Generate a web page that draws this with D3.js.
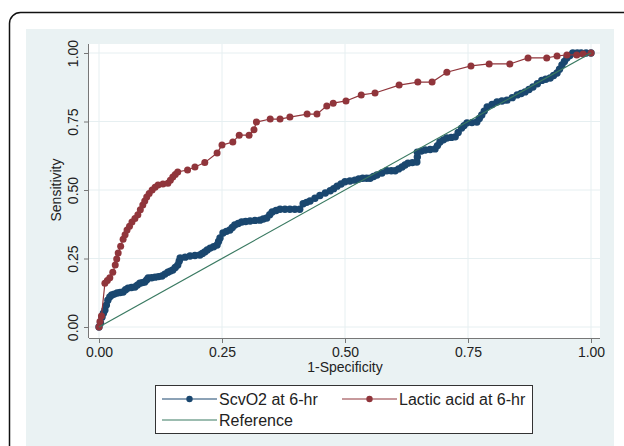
<!DOCTYPE html>
<html>
<head>
<meta charset="utf-8">
<script src="https://cdn.jsdelivr.net/npm/d3@7"></script>
<style>
  body { margin: 0; background: #fff; }
  svg { display: block; font-family: "Liberation Sans", Arial, sans-serif; }
</style>
</head>
<body>
<script>
// ROC data (1-specificity, sensitivity)
var scvX = [0, 0.003, 0.006, 0.009, 0.012, 0.015, 0.018, 0.022, 0.026, 0.031, 0.037, 0.043, 0.049, 0.054, 0.059, 0.066, 0.073, 0.078, 0.083, 0.088, 0.093, 0.097, 0.1, 0.107, 0.114, 0.121, 0.128, 0.134, 0.14, 0.145, 0.15, 0.155, 0.16, 0.163, 0.165, 0.175, 0.185, 0.195, 0.205, 0.21, 0.215, 0.22, 0.226, 0.233, 0.24, 0.243, 0.246, 0.252, 0.259, 0.266, 0.271, 0.276, 0.283, 0.29, 0.298, 0.307, 0.317, 0.327, 0.334, 0.341, 0.347, 0.352, 0.36, 0.368, 0.378, 0.388, 0.398, 0.408, 0.415, 0.422, 0.429, 0.439, 0.449, 0.46, 0.47, 0.477, 0.484, 0.492, 0.5, 0.51, 0.52, 0.528, 0.536, 0.544, 0.551, 0.558, 0.565, 0.575, 0.585, 0.594, 0.602, 0.609, 0.616, 0.622, 0.628, 0.637, 0.646, 0.647, 0.647, 0.655, 0.663, 0.673, 0.683, 0.688, 0.693, 0.7, 0.707, 0.716, 0.724, 0.73, 0.737, 0.742, 0.748, 0.758, 0.768, 0.773, 0.778, 0.783, 0.789, 0.799, 0.809, 0.819, 0.829, 0.84, 0.85, 0.858, 0.866, 0.874, 0.882, 0.891, 0.9, 0.908, 0.917, 0.924, 0.931, 0.936, 0.941, 0.946, 0.951, 0.957, 0.963, 0.972, 0.98, 0.99, 1];
var scvY = [0, 0.015, 0.036, 0.05, 0.062, 0.08, 0.098, 0.11, 0.117, 0.12, 0.124, 0.126, 0.128, 0.136, 0.142, 0.144, 0.146, 0.153, 0.16, 0.162, 0.164, 0.172, 0.179, 0.18, 0.182, 0.184, 0.186, 0.193, 0.2, 0.204, 0.208, 0.217, 0.226, 0.24, 0.252, 0.255, 0.259, 0.261, 0.263, 0.268, 0.274, 0.281, 0.288, 0.293, 0.299, 0.312, 0.325, 0.343, 0.349, 0.354, 0.363, 0.372, 0.378, 0.383, 0.385, 0.387, 0.389, 0.39, 0.394, 0.398, 0.41, 0.42, 0.425, 0.43, 0.43, 0.43, 0.43, 0.43, 0.45, 0.455, 0.46, 0.47, 0.48, 0.489, 0.497, 0.505, 0.514, 0.522, 0.53, 0.533, 0.536, 0.54, 0.543, 0.543, 0.543, 0.549, 0.555, 0.562, 0.57, 0.57, 0.57, 0.577, 0.584, 0.591, 0.598, 0.6, 0.602, 0.62, 0.638, 0.642, 0.646, 0.648, 0.65, 0.662, 0.675, 0.683, 0.69, 0.692, 0.694, 0.71, 0.726, 0.735, 0.745, 0.746, 0.748, 0.761, 0.774, 0.788, 0.803, 0.812, 0.821, 0.825, 0.828, 0.837, 0.847, 0.852, 0.858, 0.867, 0.876, 0.888, 0.9, 0.904, 0.909, 0.918, 0.927, 0.941, 0.956, 0.969, 0.982, 0.991, 1, 1, 1, 1, 1];

var lacX = [0, 0.002, 0.005, 0.012, 0.017, 0.022, 0.028, 0.033, 0.036, 0.039, 0.044, 0.049, 0.053, 0.057, 0.062, 0.067, 0.073, 0.079, 0.084, 0.089, 0.093, 0.097, 0.102, 0.108, 0.114, 0.12, 0.13, 0.14, 0.145, 0.15, 0.155, 0.16, 0.18, 0.195, 0.215, 0.24, 0.25, 0.272, 0.285, 0.305, 0.315, 0.32, 0.348, 0.368, 0.388, 0.423, 0.443, 0.463, 0.476, 0.502, 0.533, 0.561, 0.61, 0.648, 0.677, 0.707, 0.756, 0.793, 0.835, 0.872, 0.91, 0.931, 0.951, 0.971, 0.984, 1];
var lacY = [0, 0.02, 0.04, 0.16, 0.17, 0.18, 0.2, 0.226, 0.248, 0.27, 0.295, 0.32, 0.337, 0.354, 0.368, 0.383, 0.396, 0.41, 0.428, 0.445, 0.46, 0.474, 0.487, 0.5, 0.51, 0.518, 0.522, 0.525, 0.536, 0.547, 0.557, 0.566, 0.573, 0.584, 0.6, 0.635, 0.664, 0.675, 0.7, 0.7, 0.72, 0.748, 0.759, 0.759, 0.766, 0.777, 0.777, 0.807, 0.817, 0.825, 0.847, 0.854, 0.883, 0.894, 0.894, 0.93, 0.953, 0.96, 0.96, 0.982, 0.982, 0.989, 0.993, 0.993, 0.996, 1];

var refX = [0, 1];
var refY = [0, 1];

var ticks = [0, 0.25, 0.5, 0.75, 1];
var legendLabels = ["ScvO2 at 6-hr", "Lactic acid at 6-hr", "Reference"];

var navy = "#1a476f", maroon = "#90353b", green = "#3a7a62";
var W = 624, H = 446;

var svg = d3.select("body").append("svg")
  .attr("width", W)
  .attr("height", H);

// outer frame (cut off on right/bottom)
svg.append("rect")
  .attr("x", 9.5).attr("y", 12.5)
  .attr("width", 660).attr("height", 480)
  .attr("rx", 11)
  .attr("fill", "#fff")
  .attr("stroke", "#111")
  .attr("stroke-width", 1.5);

// graph region background
svg.append("rect")
  .attr("x", 26).attr("y", 29)
  .attr("width", 588).attr("height", 420)
  .attr("fill", "#eaf2f3");

// plot region
var plot = { left: 89, right: 600, top: 44, bottom: 338 };
svg.append("rect")
  .attr("x", plot.left).attr("y", plot.top)
  .attr("width", plot.right - plot.left).attr("height", plot.bottom - plot.top)
  .attr("fill", "#fff");

var x = d3.scaleLinear().domain([0, 1]).range([99, 591]);
var y = d3.scaleLinear().domain([0, 1]).range([327, 53]);

// grid lines
var grid = svg.append("g");
grid.selectAll(".gx").data(ticks).enter().append("line")
  .attr("x1", function (d) { return x(d); })
  .attr("x2", function (d) { return x(d); })
  .attr("y1", plot.top).attr("y2", plot.bottom)
  .attr("stroke", "#e6eff1").attr("stroke-width", 1);
grid.selectAll(".gy").data(ticks).enter().append("line")
  .attr("x1", plot.left).attr("x2", plot.right)
  .attr("y1", function (d) { return y(d); })
  .attr("y2", function (d) { return y(d); })
  .attr("stroke", "#e6eff1").attr("stroke-width", 1);

// axes
var fmt = d3.format(".2f");
var gX = svg.append("g")
  .attr("transform", "translate(0," + plot.bottom + ")")
  .call(d3.axisBottom(x).tickValues(ticks).tickFormat(fmt).tickSize(5).tickPadding(4).tickSizeOuter(0));
gX.select(".domain").attr("d", "M" + plot.left + ",0.5H" + plot.right);

var gY = svg.append("g")
  .attr("transform", "translate(" + plot.left + ",0)")
  .call(d3.axisLeft(y).tickValues(ticks).tickFormat(fmt).tickSize(5).tickSizeOuter(0));
gY.select(".domain").attr("d", "M-0.5," + plot.top + "V" + plot.bottom);

[gX, gY].forEach(function (g) {
  g.select(".domain").attr("stroke", "#777");
  g.selectAll(".tick line").attr("stroke", "#777");
  g.selectAll("text").attr("font-size", "14px")
    .attr("font-family", "'Liberation Sans', Arial, sans-serif")
    .attr("fill", "#222");
});
gY.selectAll(".tick text")
  .attr("x", null).attr("dy", null)
  .attr("text-anchor", "middle")
  .attr("transform", "translate(-11,0) rotate(-90)");

// axis titles
svg.append("text")
  .attr("x", 345).attr("y", 372)
  .attr("text-anchor", "middle")
  .attr("font-size", "14px").attr("fill", "#222")
  .text("1-Specificity");
svg.append("text")
  .attr("transform", "translate(61,190) rotate(-90)")
  .attr("text-anchor", "middle")
  .attr("font-size", "14px").attr("fill", "#222")
  .text("Sensitivity");

// series
function pts(xs, ys) {
  return xs.map(function (v, i) { return [v, ys[i]]; });
}
var line = d3.line()
  .x(function (d) { return x(d[0]); })
  .y(function (d) { return y(d[1]); });

var series = [
  { data: pts(scvX, scvY), color: navy, r: 3.7 },
  { data: pts(lacX, lacY), color: maroon, r: 3.5 }
];

series.forEach(function (s) {
  svg.append("path")
    .datum(s.data)
    .attr("d", line)
    .attr("fill", "none")
    .attr("stroke", s.color)
    .attr("stroke-width", 1.2);
  svg.append("g").selectAll("circle")
    .data(s.data)
    .enter()
    .append("circle")
    .attr("cx", function (d) { return x(d[0]); })
    .attr("cy", function (d) { return y(d[1]); })
    .attr("r", s.r)
    .attr("fill", s.color);
});

// reference line drawn on top
svg.append("path")
  .datum(pts(refX, refY))
  .attr("d", line)
  .attr("fill", "none")
  .attr("stroke", green)
  .attr("stroke-width", 1.2);

// legend
var legend = svg.append("g");
legend.append("rect")
  .attr("x", 155.5).attr("y", 385.5)
  .attr("width", 377).attr("height", 48)
  .attr("fill", "#fff")
  .attr("stroke", "#333").attr("stroke-width", 1);

var items = [
  { label: legendLabels[0], color: navy, x0: 162, y0: 399, marker: true },
  { label: legendLabels[1], color: maroon, x0: 342, y0: 399, marker: true },
  { label: legendLabels[2], color: green, x0: 162, y0: 420, marker: false }
];
items.forEach(function (it) {
  legend.append("line")
    .attr("x1", it.x0).attr("x2", it.x0 + 55)
    .attr("y1", it.y0).attr("y2", it.y0)
    .attr("stroke", it.color).attr("stroke-width", 1.2);
  if (it.marker) {
    legend.append("circle")
      .attr("cx", it.x0 + 27.5).attr("cy", it.y0)
      .attr("r", 3.2).attr("fill", it.color);
  }
  legend.append("text")
    .attr("x", it.x0 + 57).attr("y", it.y0 + 6)
    .attr("font-size", "16px").attr("fill", "#222")
    .text(it.label);
});
</script>
</body>
</html>
